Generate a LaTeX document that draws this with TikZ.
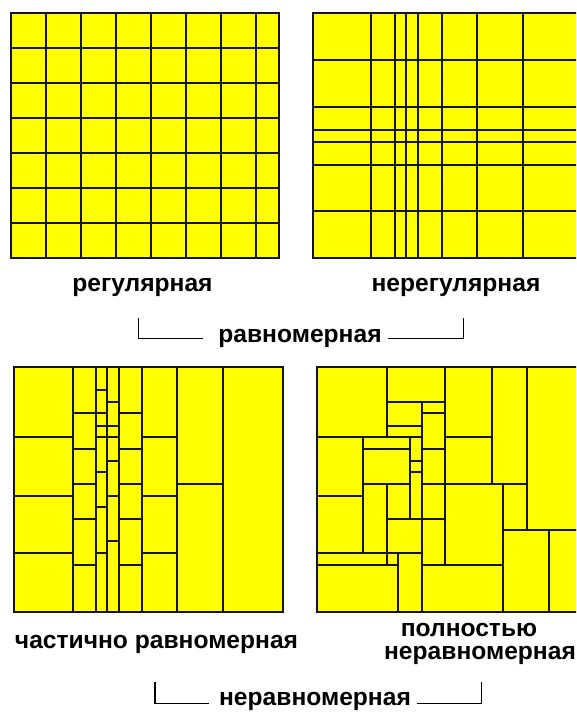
\documentclass[tikz,border=0pt]{standalone}
\usepackage{fontspec}
\setmainfont{Liberation Sans}
\usetikzlibrary{calc}
\definecolor{Lemon}{HTML}{FFFF00}
\definecolor{Ink}{HTML}{141414}
\tikzset{cell/.style={draw=Ink,fill=Lemon,line width=2.2pt},rule/.style={draw=Ink,line width=2.2pt},caption/.style={text=black,font=\bfseries\fontsize{24.6}{24.6}\selectfont,inner sep=0pt,anchor=base},bracket/.style={draw=black,line width=1.4pt}}
\begin{document}
\begin{tikzpicture}[x=1pt,y=-1pt]
\useasboundingbox (0,0) rectangle (576,714);
\clip (0,0) rectangle (576,714);
% regular grid
\fill[Lemon] (10.7,13.3) rectangle (279.3,258.3);
\foreach \i in {1,...,7} {\draw[rule] ({10.7+35*\i},13.3) -- ({10.7+35*\i},258.3);}
\foreach \j in {1,...,6} {\draw[rule] (10.7,{13.3+35*\j}) -- (279.3,{13.3+35*\j});}
\draw[rule] (10.7,13.3) rectangle (279.3,258.3);
% irregular grid
\fill[Lemon] (312.7,13.3) rectangle (582,257.7);
\foreach \x in {371,395,406.3,417.7,441.7,476.7,523.3} {\draw[rule] (\x,13.3) -- (\x,257.7);}
\foreach \y in {60,107,130,142,165,211} {\draw[rule] (312.7,\y) -- (582,\y);}
\draw[rule] (312.7,13.3) rectangle (582,257.7);
% partially non-uniform
\draw[cell] (14,366.7) rectangle (282.7,611.7);
\foreach \xa/\xb/\ys in {14/72.7/{436.7,495.7,553.3},72.7/95.7/{413.3,449,483.7,519,565},95.7/107/{390,413.3,425.7,436.7,472.3,507.3,553.3},107/118.7/{402.3,425.7,436.7,460.7,495.7,541},118.7/142.3/{413.3,449,483.7,519,565},142.3/176.7/{436.7,495.7,553.3},176.7/223.3/{483.7}} {
  \draw[rule] (\xa,366.7) -- (\xa,611.7);
  \foreach \y in \ys {\draw[rule] (\xa,\y) -- (\xb,\y);}
}
\draw[rule] (223.3,366.7) -- (223.3,611.7);
% fully non-uniform
\foreach \a/\b/\c/\d in {316.7/367/386.7/436.7,386.7/367/445/401.7,386.7/401.7/421.7/425.7,386.7/425.7/421.7/436.7,421.7/401.7/445/413.3,421.7/413.3/445/449,421.7/449/445/483.7,421.7/483.7/445/519,421.7/519/445/565,445/367/491.7/436.7,445/436.7/491.7/483.7,491.7/367/526.7/483.7,526.7/367/582/530,316.7/436.7/363.3/495.7,316.7/495.7/363.3/553.3,363.3/436.7/410/449,363.3/449/410/483.7,410/436.7/421.7/460.7,410/460.7/421.7/471.7,410/471.7/421.7/519,363.3/483.7/386.7/553.3,386.7/483.7/410/519,386.7/519/421.7/553.3,316.7/553.3/386.7/565,386.7/553.3/398.3/565,316.7/565/398.3/611.7,398.3/553.3/421.7/611.7,421.7/565/503.3/611.7,445/483.7/503.3/565,503.3/483.7/526.7/530,503.3/530/549.3/611.7,549.3/530/582/611.7} {\draw[cell] (\a,\b) rectangle (\c,\d);}
% captions
\node[caption] (reg) at (142.5,291.5) {регулярная};
\node[caption] (irreg) at (456,291.5) {нерегулярная};
\node[caption] (uni) at (300,342) {равномерная};
\node[caption] (part) at (156.5,648.3) {частично равномерная};
\node[caption] (full1) at (469,636) {полностью};
\node[caption] (full2) at (480,659) {неравномерная};
\node[caption] (nonuni) at (315,705) {неравномерная};
\coordinate (uniL) at (138.3,318);\coordinate (uniR) at (463.3,318);
\coordinate (nonL) at (155,682);\coordinate (nonR) at (481.7,682);
\draw[bracket] (uniL) |- ([xshift=-15pt,yshift=3.5pt]uni.base west);\draw[bracket] ([xshift=6.5pt,yshift=3.5pt]uni.base east) -| (uniR);
\draw[bracket] (nonL) |- ([xshift=-10pt,yshift=1.5pt]nonuni.base west);\draw[bracket] ([xshift=6pt,yshift=1.5pt]nonuni.base east) -| (nonR);
\end{tikzpicture}
\end{document}
